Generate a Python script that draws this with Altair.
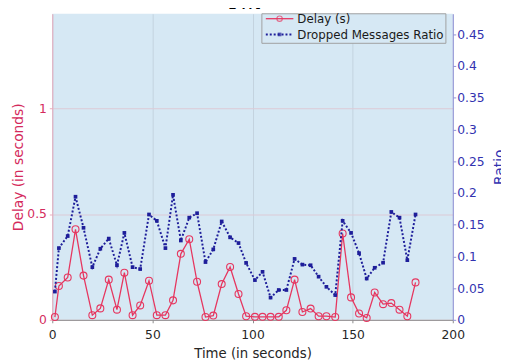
import altair as alt
import pandas as pd

time_s = [1.3, 3.3, 7.7, 11.6, 15.6, 20.0, 24.0, 28.2, 32.3, 36.0, 40.1, 43.9,
          48.3, 52.2, 56.5, 60.3, 64.2, 68.4, 72.3, 76.5, 80.4, 84.6, 88.8, 93.0,
          96.8, 101.2, 105.0, 109.0, 113.1, 116.9, 121.0, 124.9, 129.0, 133.0, 136.9,
          141.3, 145.0, 149.2, 153.2, 157.0, 161.0, 165.2, 169.3, 173.4, 177.3, 181.4]
delay_s = [0.013, 0.16, 0.2, 0.428, 0.209, 0.022, 0.054, 0.19, 0.048, 0.223, 0.022, 0.068,
           0.185, 0.022, 0.022, 0.092, 0.312, 0.381, 0.18, 0.013, 0.02, 0.169, 0.25, 0.122,
           0.017, 0.014, 0.014, 0.014, 0.014, 0.045, 0.19, 0.037, 0.053, 0.017, 0.017,
           0.013, 0.408, 0.106, 0.03, 0.009, 0.129, 0.074, 0.079, 0.048, 0.017, 0.177]
ratio = [0.0445, 0.113, 0.132, 0.194, 0.145, 0.083, 0.112, 0.128, 0.086, 0.137, 0.083, 0.080,
         0.166, 0.156, 0.113, 0.197, 0.125, 0.161, 0.168, 0.091, 0.111, 0.155, 0.13, 0.121,
         0.0896, 0.0626, 0.0756, 0.035, 0.047, 0.047, 0.096, 0.087, 0.086, 0.068, 0.052,
         0.039, 0.156, 0.137, 0.105, 0.065, 0.082, 0.09, 0.17, 0.161, 0.094, 0.166]

x_ticks = [0, 50, 100, 150, 200]
delay_ticks = [0, 0.5, 1]
ratio_ticks = [0, 0.05, 0.1, 0.15, 0.2, 0.25, 0.3, 0.35, 0.4, 0.45]
legend_labels = ["Delay (s)", "Dropped Messages Ratio"]
title_text = "Tm"

df = pd.DataFrame({"Time": time_s, "Delay": delay_s, "Ratio": ratio})
one = pd.DataFrame({"k": [0]})

RED = "#e6365f"
RED_TXT = "#d42a5c"
BLUE = "#1e1e9a"
BLUE_TXT = "#3232b0"
BG = "#d6e8f4"
FONT = "DejaVu Sans"

W, H = 407, 311

x_enc = alt.X("Time:Q", scale=alt.Scale(domain=[0, 200], nice=False, zero=False),
              axis=alt.Axis(values=x_ticks, title="Time (in seconds)", format="d",
                            labelColor="#262626", titleColor="#262626",
                            domainColor="#8a8a8a", tickColor="#8a8a8a",
                            grid=True, gridColor="#c3d2de", labelFontSize=12.5,
                            titleFontSize=13.5, tickSize=3, labelPadding=6,
                            titlePadding=6, labelFont=FONT, titleFont=FONT,
                            titleFontWeight="normal", labelFlush=False))

delay = alt.Chart(df).mark_line(
    color=RED, strokeWidth=1.3,
    point=alt.OverlayMarkDef(shape="circle", filled=False, fill=None, color=RED,
                             size=50, strokeWidth=1.1)
).encode(
    x=x_enc,
    y=alt.Y("Delay:Q", scale=alt.Scale(domain=[0, 1.447], nice=False, zero=False),
            axis=alt.Axis(values=delay_ticks, format="~g", title="Delay (in seconds)",
                          labelColor=RED_TXT, titleColor=RED_TXT, domainColor="#e9a9bb",
                          tickColor="#e9a9bb", grid=True, gridColor="#dccad6",
                          labelFontSize=12.5, titleFontSize=14, tickSize=3,
                          labelPadding=3, titlePadding=1, labelFont=FONT,
                          titleFont=FONT, titleFontWeight="normal"))
)

drop = alt.Chart(df).mark_line(
    color=BLUE, strokeWidth=2, strokeDash=[2, 2],
    point=alt.OverlayMarkDef(shape="square", filled=True, color=BLUE, size=14)
).encode(
    x=alt.X("Time:Q"),
    y=alt.Y("Ratio:Q", scale=alt.Scale(domain=[0, 0.4823], nice=False, zero=False),
            axis=alt.Axis(orient="right", values=ratio_ticks, format="~g", title="Ratio",
                          labelColor=BLUE_TXT, titleColor=BLUE_TXT, domainColor="#8f8fd6",
                          tickColor="#8f8fd6", grid=False, labelFontSize=12.5,
                          titleFontSize=14, tickSize=3, labelPadding=1, titlePadding=9,
                          titleAngle=270, titleBaseline="top", labelFont=FONT,
                          titleFont=FONT, titleFontWeight="normal"))
)

lg = alt.Chart(one)
legend_box = lg.mark_rect(fill=BG, stroke="#a0a0a0", strokeWidth=1).encode(
    x=alt.value(213), x2=alt.value(400), y=alt.value(0), y2=alt.value(30))
leg_red_line = lg.mark_rule(color=RED, strokeWidth=1.3).encode(
    x=alt.value(217), x2=alt.value(245), y=alt.value(5))
leg_red_pt = lg.mark_point(shape="circle", filled=False, color=RED, size=30,
                           strokeWidth=1.1).encode(x=alt.value(231), y=alt.value(5))
leg_blue_line = lg.mark_rule(color=BLUE, strokeWidth=2, strokeDash=[2, 2]).encode(
    x=alt.value(217), x2=alt.value(245), y=alt.value(21))
leg_blue_pt = lg.mark_point(shape="square", filled=True, color=BLUE, size=14).encode(
    x=alt.value(231), y=alt.value(21))
leg_t1 = lg.mark_text(text=legend_labels[0], align="left", baseline="middle",
                      font=FONT, fontSize=12, color="#1a1a1a").encode(
    x=alt.value(249), y=alt.value(5.5))
leg_t2 = lg.mark_text(text=legend_labels[1], align="left", baseline="middle",
                      font=FONT, fontSize=12, color="#1a1a1a").encode(
    x=alt.value(249), y=alt.value(21.5))
title_mark = lg.mark_text(text=title_text, align="center", baseline="alphabetic",
                          font="DejaVu Serif", fontStyle="italic", fontSize=22,
                          color="#000000").encode(x=alt.value(195), y=alt.value(-5))

chart = alt.layer(
    delay, drop, legend_box, leg_red_line, leg_red_pt, leg_blue_line, leg_blue_pt,
    leg_t1, leg_t2, title_mark
).resolve_scale(y="independent").properties(
    width=W, height=H,
    background="white",
    autosize=alt.AutoSizeParams(type="none"),
    padding={"left": 45, "top": 3, "right": 49, "bottom": 40},
).configure_view(fill=BG, strokeWidth=0)

chart.save("out.html", embed_options={"renderer": "svg", "actions": False})
